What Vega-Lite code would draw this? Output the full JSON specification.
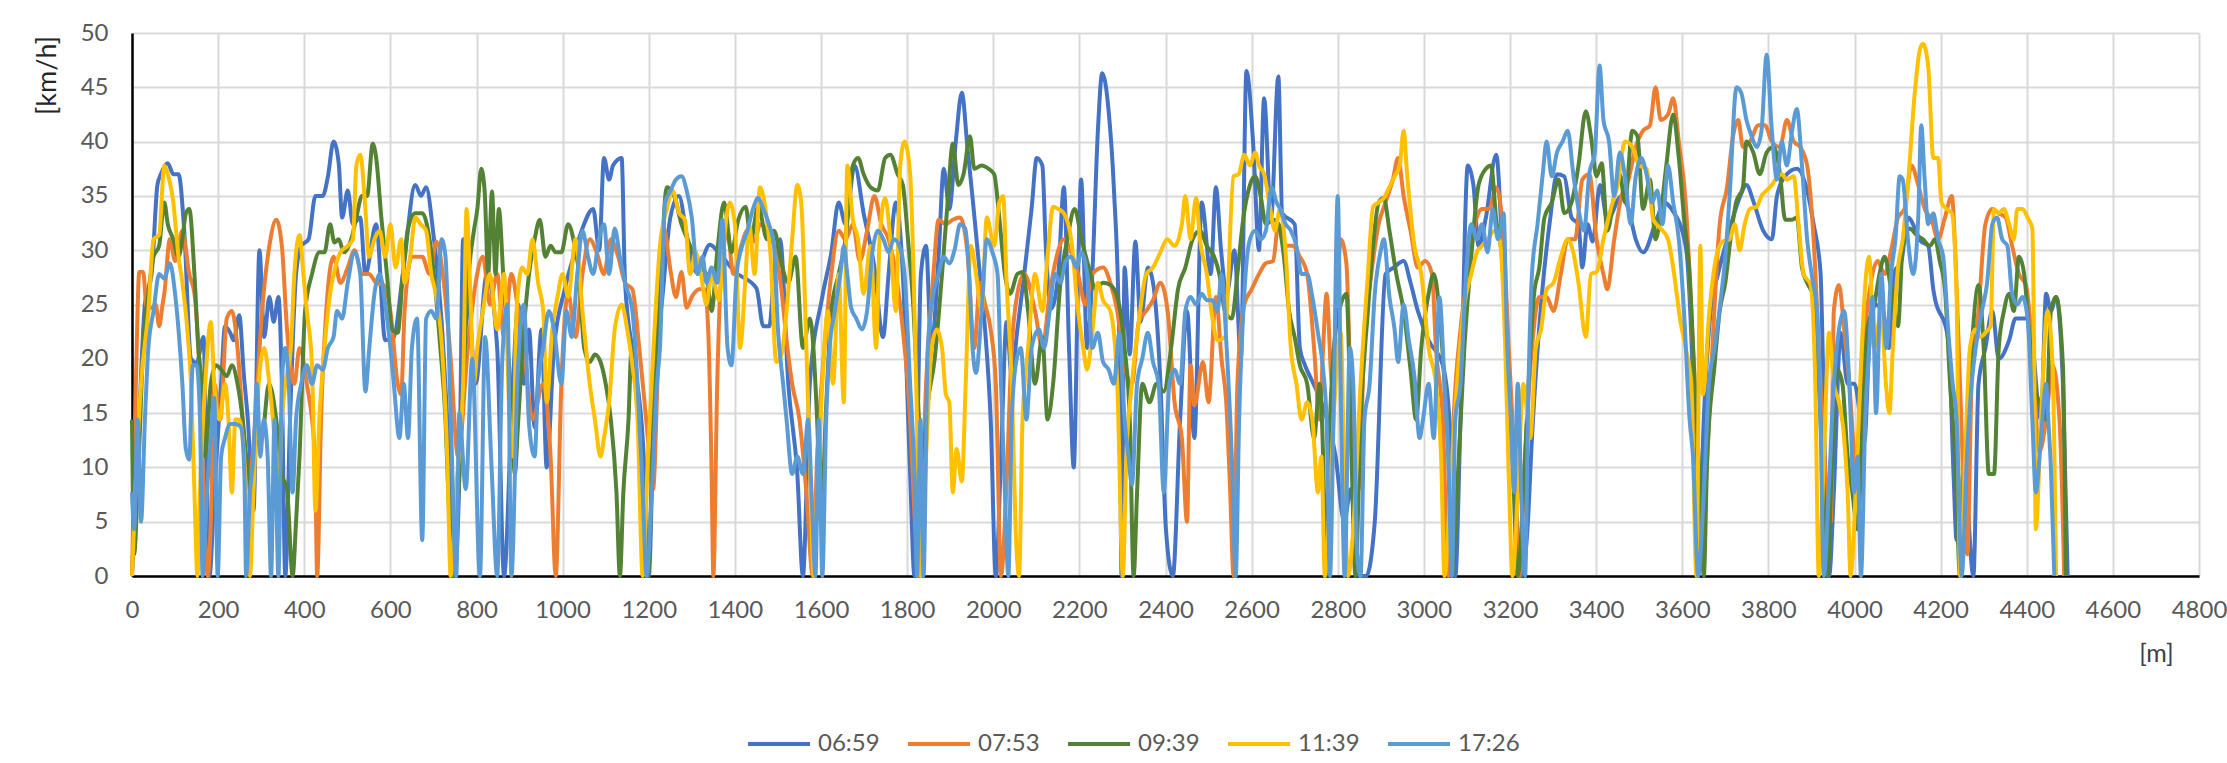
{
"$schema":"https://vega.github.io/schema/vega-lite/v6.json",
"width":2067,"height":543,
"autosize":{"type":"none"},
"padding":{"left":132,"top":33,"right":28,"bottom":187},
"background":"white",
"config":{"font":"Lato","view":{"stroke":null}},
"datasets":{
"r0659":[{"m":0,"kmh":0},{"m":10,"kmh":8},{"m":30,"kmh":25},{"m":46,"kmh":28},{"m":59,"kmh":36},{"m":67,"kmh":37},{"m":83,"kmh":38},{"m":96,"kmh":37},{"m":108,"kmh":37},{"m":121,"kmh":32},{"m":137,"kmh":20},{"m":150,"kmh":19.6},{"m":166,"kmh":22},{"m":174,"kmh":7.7},{"m":180,"kmh":0},{"m":191,"kmh":7.7},{"m":207,"kmh":17.7},{"m":216,"kmh":23},{"m":228,"kmh":22.4},{"m":236,"kmh":21.7},{"m":249,"kmh":24},{"m":260,"kmh":18.4},{"m":269,"kmh":14.4},{"m":282,"kmh":6},{"m":296,"kmh":30},{"m":307,"kmh":22},{"m":319,"kmh":25.7},{"m":329,"kmh":23.4},{"m":340,"kmh":25.7},{"m":348,"kmh":17.7},{"m":356,"kmh":0},{"m":367,"kmh":14.4},{"m":381,"kmh":27.8},{"m":393,"kmh":30.4},{"m":410,"kmh":31},{"m":426,"kmh":35},{"m":443,"kmh":35},{"m":455,"kmh":36.8},{"m":468,"kmh":40},{"m":480,"kmh":38},{"m":488,"kmh":33},{"m":501,"kmh":35.5},{"m":513,"kmh":32.4},{"m":530,"kmh":33},{"m":542,"kmh":27.8},{"m":567,"kmh":32.4},{"m":588,"kmh":21.7},{"m":608,"kmh":22},{"m":629,"kmh":27.8},{"m":658,"kmh":36},{"m":671,"kmh":35},{"m":683,"kmh":35.8},{"m":699,"kmh":31.8},{"m":719,"kmh":23.4},{"m":735,"kmh":12},{"m":749,"kmh":0},{"m":761,"kmh":11},{"m":769,"kmh":31},{"m":785,"kmh":24},{"m":798,"kmh":17.7},{"m":824,"kmh":27.8},{"m":848,"kmh":21},{"m":864,"kmh":0},{"m":881,"kmh":14.4},{"m":897,"kmh":25},{"m":910,"kmh":17.7},{"m":922,"kmh":22.7},{"m":935,"kmh":13.7},{"m":951,"kmh":22.7},{"m":963,"kmh":10},{"m":980,"kmh":21},{"m":1005,"kmh":26.4},{"m":1030,"kmh":30},{"m":1046,"kmh":32},{"m":1071,"kmh":33.8},{"m":1085,"kmh":30},{"m":1096,"kmh":38.5},{"m":1108,"kmh":36.5},{"m":1117,"kmh":37.8},{"m":1137,"kmh":38.5},{"m":1145,"kmh":27},{"m":1165,"kmh":20},{"m":1187,"kmh":12},{"m":1200,"kmh":0},{"m":1215,"kmh":20},{"m":1230,"kmh":25},{"m":1250,"kmh":33},{"m":1270,"kmh":35},{"m":1290,"kmh":31},{"m":1310,"kmh":28},{"m":1342,"kmh":30.5},{"m":1358,"kmh":30},{"m":1400,"kmh":28},{"m":1450,"kmh":26.5},{"m":1466,"kmh":23},{"m":1480,"kmh":23},{"m":1491,"kmh":27.8},{"m":1505,"kmh":31},{"m":1524,"kmh":17.7},{"m":1545,"kmh":9.4},{"m":1558,"kmh":0},{"m":1574,"kmh":17.7},{"m":1603,"kmh":25.7},{"m":1624,"kmh":29.8},{"m":1641,"kmh":34.4},{"m":1657,"kmh":32.4},{"m":1678,"kmh":37.8},{"m":1699,"kmh":33.4},{"m":1724,"kmh":28.4},{"m":1744,"kmh":22},{"m":1757,"kmh":27.8},{"m":1774,"kmh":34.4},{"m":1790,"kmh":27.8},{"m":1807,"kmh":9.4},{"m":1817,"kmh":0},{"m":1832,"kmh":27.8},{"m":1844,"kmh":30.4},{"m":1856,"kmh":21},{"m":1873,"kmh":29.4},{"m":1885,"kmh":37.5},{"m":1898,"kmh":33.8},{"m":1913,"kmh":40},{"m":1927,"kmh":44.5},{"m":1940,"kmh":39.5},{"m":1952,"kmh":34.8},{"m":1969,"kmh":27.8},{"m":1981,"kmh":22.7},{"m":1994,"kmh":14.4},{"m":2006,"kmh":0},{"m":2018,"kmh":11},{"m":2031,"kmh":23.4},{"m":2043,"kmh":18.4},{"m":2056,"kmh":22.7},{"m":2072,"kmh":27.8},{"m":2089,"kmh":33.8},{"m":2101,"kmh":38.5},{"m":2114,"kmh":37.8},{"m":2122,"kmh":30.4},{"m":2134,"kmh":24.6},{"m":2151,"kmh":27.8},{"m":2164,"kmh":35.8},{"m":2176,"kmh":21},{"m":2187,"kmh":10},{"m":2197,"kmh":27.8},{"m":2204,"kmh":36.5},{"m":2218,"kmh":21},{"m":2230,"kmh":27.8},{"m":2243,"kmh":41},{"m":2253,"kmh":46.3},{"m":2268,"kmh":42.8},{"m":2280,"kmh":35.8},{"m":2293,"kmh":21},{"m":2298,"kmh":0},{"m":2305,"kmh":28.4},{"m":2317,"kmh":20.4},{"m":2330,"kmh":30.8},{"m":2342,"kmh":23.4},{"m":2359,"kmh":28.4},{"m":2371,"kmh":27},{"m":2388,"kmh":18},{"m":2401,"kmh":4.3},{"m":2417,"kmh":0},{"m":2434,"kmh":14.4},{"m":2450,"kmh":24.4},{"m":2467,"kmh":12.7},{"m":2484,"kmh":34.4},{"m":2505,"kmh":27.8},{"m":2517,"kmh":35.8},{"m":2529,"kmh":30},{"m":2542,"kmh":26},{"m":2560,"kmh":30},{"m":2575,"kmh":20},{"m":2588,"kmh":46.5},{"m":2604,"kmh":39.5},{"m":2617,"kmh":30},{"m":2629,"kmh":44},{"m":2645,"kmh":33},{"m":2662,"kmh":46},{"m":2671,"kmh":33.4},{"m":2700,"kmh":32.4},{"m":2712,"kmh":21},{"m":2724,"kmh":19.4},{"m":2740,"kmh":18},{"m":2762,"kmh":16},{"m":2795,"kmh":11},{"m":2815,"kmh":5},{"m":2830,"kmh":8},{"m":2850,"kmh":0},{"m":2866,"kmh":0},{"m":2886,"kmh":5},{"m":2911,"kmh":27.8},{"m":2930,"kmh":28.4},{"m":2953,"kmh":29},{"m":2969,"kmh":27},{"m":2986,"kmh":24.4},{"m":3011,"kmh":21.7},{"m":3044,"kmh":19.4},{"m":3060,"kmh":14},{"m":3073,"kmh":0},{"m":3085,"kmh":14.4},{"m":3102,"kmh":37.8},{"m":3115,"kmh":36},{"m":3127,"kmh":30.4},{"m":3144,"kmh":33},{"m":3168,"kmh":38.8},{"m":3181,"kmh":31},{"m":3193,"kmh":21},{"m":3210,"kmh":9},{"m":3227,"kmh":0},{"m":3240,"kmh":4},{"m":3251,"kmh":12.7},{"m":3276,"kmh":26.7},{"m":3293,"kmh":32.8},{"m":3309,"kmh":37},{"m":3326,"kmh":36.8},{"m":3343,"kmh":33},{"m":3359,"kmh":32.4},{"m":3368,"kmh":28.4},{"m":3380,"kmh":32.4},{"m":3392,"kmh":30.8},{"m":3409,"kmh":36},{"m":3426,"kmh":32.8},{"m":3459,"kmh":35},{"m":3475,"kmh":33.8},{"m":3492,"kmh":31},{"m":3509,"kmh":29.8},{"m":3542,"kmh":33},{"m":3558,"kmh":34.4},{"m":3575,"kmh":33.8},{"m":3608,"kmh":30.4},{"m":3625,"kmh":17.7},{"m":3637,"kmh":0},{"m":3650,"kmh":14.4},{"m":3666,"kmh":24.4},{"m":3683,"kmh":27.8},{"m":3700,"kmh":30.4},{"m":3733,"kmh":34.8},{"m":3749,"kmh":36},{"m":3766,"kmh":34.4},{"m":3788,"kmh":31.8},{"m":3808,"kmh":31},{"m":3820,"kmh":35},{"m":3843,"kmh":37},{"m":3866,"kmh":37.5},{"m":3890,"kmh":35.5},{"m":3905,"kmh":32.4},{"m":3921,"kmh":28},{"m":3933,"kmh":7.7},{"m":3941,"kmh":0},{"m":3952,"kmh":7.7},{"m":3968,"kmh":22.4},{"m":3984,"kmh":17.7},{"m":4000,"kmh":17.7},{"m":4023,"kmh":12.4},{"m":4034,"kmh":21},{"m":4046,"kmh":25},{"m":4066,"kmh":24.4},{"m":4080,"kmh":21},{"m":4093,"kmh":28},{"m":4109,"kmh":29},{"m":4124,"kmh":33},{"m":4155,"kmh":30.8},{"m":4171,"kmh":30.4},{"m":4183,"kmh":26.4},{"m":4218,"kmh":21.7},{"m":4230,"kmh":9.4},{"m":4237,"kmh":3.3},{"m":4255,"kmh":10},{"m":4276,"kmh":0},{"m":4288,"kmh":17.7},{"m":4304,"kmh":21},{"m":4320,"kmh":24.4},{"m":4335,"kmh":20},{"m":4359,"kmh":21.7},{"m":4374,"kmh":23.7},{"m":4405,"kmh":23.7},{"m":4433,"kmh":14.4},{"m":4445,"kmh":26},{"m":4456,"kmh":24.4},{"m":4468,"kmh":25.7},{"m":4484,"kmh":17.7},{"m":4495,"kmh":0}],
"r0753":[{"m":0,"kmh":0},{"m":9,"kmh":17.7},{"m":17,"kmh":28},{"m":26,"kmh":28},{"m":34,"kmh":24.7},{"m":46,"kmh":24.7},{"m":55,"kmh":25},{"m":63,"kmh":23},{"m":71,"kmh":25},{"m":75,"kmh":26},{"m":88,"kmh":31},{"m":100,"kmh":29},{"m":117,"kmh":31.8},{"m":133,"kmh":27.8},{"m":145,"kmh":26},{"m":158,"kmh":17.7},{"m":170,"kmh":3.3},{"m":176,"kmh":0},{"m":183,"kmh":5},{"m":191,"kmh":17.7},{"m":205,"kmh":14.4},{"m":220,"kmh":23.7},{"m":232,"kmh":24.4},{"m":245,"kmh":21},{"m":257,"kmh":14.4},{"m":270,"kmh":8},{"m":282,"kmh":12},{"m":302,"kmh":24.4},{"m":319,"kmh":30.4},{"m":335,"kmh":32.8},{"m":348,"kmh":30.4},{"m":360,"kmh":22.7},{"m":377,"kmh":17.7},{"m":389,"kmh":21},{"m":406,"kmh":17.7},{"m":425,"kmh":11},{"m":430,"kmh":0},{"m":439,"kmh":14.4},{"m":451,"kmh":24.4},{"m":468,"kmh":29.4},{"m":484,"kmh":27},{"m":501,"kmh":28.4},{"m":517,"kmh":30},{"m":534,"kmh":27.8},{"m":550,"kmh":27.8},{"m":567,"kmh":27},{"m":584,"kmh":26.8},{"m":600,"kmh":24.4},{"m":617,"kmh":17.7},{"m":625,"kmh":16.7},{"m":633,"kmh":24.4},{"m":650,"kmh":29.4},{"m":674,"kmh":29.4},{"m":691,"kmh":27.8},{"m":707,"kmh":30.8},{"m":724,"kmh":27},{"m":740,"kmh":20},{"m":757,"kmh":11},{"m":780,"kmh":21},{"m":798,"kmh":27},{"m":815,"kmh":29.4},{"m":831,"kmh":25},{"m":848,"kmh":27.8},{"m":864,"kmh":22},{"m":881,"kmh":27.8},{"m":897,"kmh":24.4},{"m":914,"kmh":19.4},{"m":930,"kmh":14.4},{"m":955,"kmh":17.7},{"m":972,"kmh":11},{"m":984,"kmh":0},{"m":997,"kmh":17.7},{"m":1013,"kmh":26},{"m":1030,"kmh":22},{"m":1046,"kmh":27.8},{"m":1063,"kmh":31},{"m":1079,"kmh":29.8},{"m":1096,"kmh":27.8},{"m":1112,"kmh":31},{"m":1129,"kmh":29.4},{"m":1145,"kmh":27},{"m":1162,"kmh":26.4},{"m":1178,"kmh":21},{"m":1195,"kmh":14},{"m":1210,"kmh":8},{"m":1222,"kmh":20},{"m":1235,"kmh":32},{"m":1251,"kmh":28},{"m":1263,"kmh":25.7},{"m":1276,"kmh":28},{"m":1288,"kmh":24.7},{"m":1300,"kmh":25.7},{"m":1317,"kmh":26.4},{"m":1330,"kmh":26.4},{"m":1338,"kmh":22.7},{"m":1346,"kmh":9.4},{"m":1350,"kmh":0},{"m":1359,"kmh":17.7},{"m":1367,"kmh":27},{"m":1383,"kmh":31.8},{"m":1396,"kmh":27.8},{"m":1412,"kmh":30},{"m":1429,"kmh":31.8},{"m":1446,"kmh":30.8},{"m":1458,"kmh":32.4},{"m":1475,"kmh":31.8},{"m":1491,"kmh":30.4},{"m":1508,"kmh":26.4},{"m":1520,"kmh":21.7},{"m":1533,"kmh":17.7},{"m":1550,"kmh":14.4},{"m":1566,"kmh":7.7},{"m":1581,"kmh":0},{"m":1591,"kmh":11},{"m":1608,"kmh":21},{"m":1624,"kmh":27.8},{"m":1641,"kmh":31.8},{"m":1657,"kmh":31},{"m":1674,"kmh":32.4},{"m":1690,"kmh":29},{"m":1707,"kmh":31.8},{"m":1724,"kmh":35},{"m":1740,"kmh":32.4},{"m":1757,"kmh":31},{"m":1774,"kmh":27.8},{"m":1790,"kmh":22.7},{"m":1807,"kmh":14.4},{"m":1818,"kmh":5},{"m":1827,"kmh":0},{"m":1844,"kmh":17.7},{"m":1861,"kmh":27.8},{"m":1873,"kmh":32.8},{"m":1890,"kmh":32.4},{"m":1906,"kmh":32.8},{"m":1923,"kmh":33},{"m":1940,"kmh":29.8},{"m":1956,"kmh":21},{"m":1969,"kmh":27},{"m":1981,"kmh":25},{"m":1994,"kmh":22.7},{"m":2006,"kmh":17.7},{"m":2018,"kmh":0},{"m":2030,"kmh":7.7},{"m":2043,"kmh":21},{"m":2056,"kmh":26},{"m":2072,"kmh":27.8},{"m":2097,"kmh":24.4},{"m":2114,"kmh":21},{"m":2131,"kmh":26},{"m":2147,"kmh":29.4},{"m":2164,"kmh":31},{"m":2181,"kmh":29.8},{"m":2197,"kmh":27.8},{"m":2214,"kmh":25},{"m":2230,"kmh":27.8},{"m":2255,"kmh":28.4},{"m":2272,"kmh":27},{"m":2288,"kmh":24.4},{"m":2305,"kmh":19.4},{"m":2322,"kmh":17.7},{"m":2338,"kmh":23.4},{"m":2355,"kmh":24.4},{"m":2371,"kmh":25.4},{"m":2388,"kmh":27},{"m":2405,"kmh":24.4},{"m":2421,"kmh":16},{"m":2438,"kmh":12.7},{"m":2450,"kmh":5},{"m":2458,"kmh":19.4},{"m":2467,"kmh":15.7},{"m":2487,"kmh":19.7},{"m":2500,"kmh":16},{"m":2517,"kmh":25.7},{"m":2530,"kmh":20},{"m":2541,"kmh":16},{"m":2550,"kmh":8},{"m":2558,"kmh":0},{"m":2567,"kmh":17.7},{"m":2583,"kmh":25},{"m":2600,"kmh":26.4},{"m":2617,"kmh":27.8},{"m":2633,"kmh":28.8},{"m":2650,"kmh":29},{"m":2662,"kmh":32.4},{"m":2679,"kmh":30.4},{"m":2695,"kmh":30.4},{"m":2712,"kmh":29.4},{"m":2729,"kmh":27.8},{"m":2745,"kmh":21},{"m":2758,"kmh":14.4},{"m":2766,"kmh":21},{"m":2774,"kmh":26},{"m":2787,"kmh":17.7},{"m":2797,"kmh":24.4},{"m":2807,"kmh":31},{"m":2820,"kmh":28.8},{"m":2832,"kmh":14.4},{"m":2849,"kmh":8},{"m":2861,"kmh":21},{"m":2878,"kmh":27.8},{"m":2895,"kmh":32.4},{"m":2911,"kmh":34.4},{"m":2928,"kmh":36.5},{"m":2940,"kmh":38.5},{"m":2953,"kmh":35},{"m":2969,"kmh":31.8},{"m":2986,"kmh":28.4},{"m":3003,"kmh":29},{"m":3019,"kmh":27.8},{"m":3028,"kmh":21},{"m":3044,"kmh":14.4},{"m":3057,"kmh":0},{"m":3069,"kmh":14.4},{"m":3085,"kmh":22.7},{"m":3102,"kmh":27.8},{"m":3119,"kmh":32.4},{"m":3135,"kmh":33.8},{"m":3152,"kmh":33.8},{"m":3168,"kmh":35.8},{"m":3185,"kmh":31},{"m":3197,"kmh":21},{"m":3210,"kmh":11},{"m":3222,"kmh":0},{"m":3235,"kmh":11},{"m":3251,"kmh":21},{"m":3268,"kmh":25.7},{"m":3285,"kmh":25.7},{"m":3301,"kmh":24.4},{"m":3318,"kmh":27.8},{"m":3334,"kmh":31},{"m":3351,"kmh":31},{"m":3368,"kmh":36.5},{"m":3384,"kmh":37},{"m":3401,"kmh":31},{"m":3417,"kmh":27.8},{"m":3426,"kmh":26.4},{"m":3442,"kmh":31},{"m":3459,"kmh":35},{"m":3475,"kmh":36.5},{"m":3492,"kmh":39.5},{"m":3509,"kmh":41},{"m":3525,"kmh":41.5},{"m":3538,"kmh":45},{"m":3550,"kmh":42},{"m":3567,"kmh":42.5},{"m":3579,"kmh":44},{"m":3592,"kmh":40},{"m":3608,"kmh":34.4},{"m":3625,"kmh":21},{"m":3637,"kmh":11},{"m":3645,"kmh":3},{"m":3654,"kmh":7.7},{"m":3670,"kmh":21},{"m":3687,"kmh":32.4},{"m":3704,"kmh":35.8},{"m":3718,"kmh":40.5},{"m":3730,"kmh":42},{"m":3741,"kmh":39.5},{"m":3757,"kmh":40},{"m":3777,"kmh":41.5},{"m":3792,"kmh":41.5},{"m":3808,"kmh":40},{"m":3827,"kmh":39.5},{"m":3843,"kmh":42},{"m":3859,"kmh":40},{"m":3874,"kmh":39.5},{"m":3890,"kmh":37.8},{"m":3905,"kmh":31},{"m":3921,"kmh":17.7},{"m":3935,"kmh":8},{"m":3945,"kmh":5},{"m":3952,"kmh":24.4},{"m":3964,"kmh":26.8},{"m":3976,"kmh":22.7},{"m":3988,"kmh":17.7},{"m":4000,"kmh":11},{"m":4012,"kmh":8},{"m":4023,"kmh":21},{"m":4038,"kmh":27},{"m":4054,"kmh":29},{"m":4070,"kmh":27.8},{"m":4085,"kmh":30},{"m":4101,"kmh":33},{"m":4116,"kmh":33.8},{"m":4132,"kmh":37.8},{"m":4148,"kmh":36},{"m":4163,"kmh":33.8},{"m":4179,"kmh":32.8},{"m":4194,"kmh":31},{"m":4210,"kmh":33},{"m":4226,"kmh":35},{"m":4234,"kmh":29.8},{"m":4245,"kmh":17.7},{"m":4262,"kmh":2},{"m":4272,"kmh":17.7},{"m":4288,"kmh":24.4},{"m":4304,"kmh":32.4},{"m":4320,"kmh":33.8},{"m":4335,"kmh":33.4},{"m":4351,"kmh":33},{"m":4366,"kmh":30.4},{"m":4382,"kmh":27.8},{"m":4398,"kmh":26.8},{"m":4413,"kmh":21},{"m":4429,"kmh":11.4},{"m":4445,"kmh":14.4},{"m":4460,"kmh":19.4},{"m":4476,"kmh":14.4},{"m":4487,"kmh":0}],
"r0939":[{"m":0,"kmh":14.4},{"m":5,"kmh":2},{"m":13,"kmh":8},{"m":26,"kmh":21},{"m":38,"kmh":26},{"m":50,"kmh":29.4},{"m":63,"kmh":30.4},{"m":75,"kmh":34.4},{"m":83,"kmh":32.4},{"m":96,"kmh":31},{"m":108,"kmh":29.4},{"m":117,"kmh":31},{"m":125,"kmh":33.4},{"m":133,"kmh":33.8},{"m":145,"kmh":27.8},{"m":154,"kmh":21},{"m":162,"kmh":17.7},{"m":170,"kmh":11},{"m":183,"kmh":17.7},{"m":195,"kmh":19.4},{"m":207,"kmh":19},{"m":220,"kmh":18.4},{"m":232,"kmh":19.4},{"m":245,"kmh":17.7},{"m":257,"kmh":14.4},{"m":265,"kmh":11},{"m":274,"kmh":7.7},{"m":286,"kmh":12},{"m":302,"kmh":12.7},{"m":318,"kmh":17.7},{"m":335,"kmh":14.4},{"m":348,"kmh":9.4},{"m":360,"kmh":8},{"m":373,"kmh":0},{"m":381,"kmh":5},{"m":389,"kmh":11},{"m":402,"kmh":24.4},{"m":418,"kmh":27.8},{"m":435,"kmh":29.8},{"m":447,"kmh":29.8},{"m":460,"kmh":32.4},{"m":470,"kmh":30.7},{"m":480,"kmh":31},{"m":492,"kmh":29.8},{"m":509,"kmh":31},{"m":521,"kmh":33},{"m":534,"kmh":35},{"m":546,"kmh":35},{"m":559,"kmh":39.8},{"m":567,"kmh":38.5},{"m":579,"kmh":33},{"m":592,"kmh":27.8},{"m":604,"kmh":22.7},{"m":617,"kmh":22.4},{"m":629,"kmh":27.8},{"m":641,"kmh":32},{"m":658,"kmh":33.4},{"m":674,"kmh":33.4},{"m":691,"kmh":31},{"m":703,"kmh":27},{"m":716,"kmh":21},{"m":728,"kmh":14.4},{"m":737,"kmh":5},{"m":745,"kmh":0},{"m":755,"kmh":5},{"m":769,"kmh":17.7},{"m":782,"kmh":27.8},{"m":794,"kmh":31.8},{"m":802,"kmh":33.8},{"m":811,"kmh":37.5},{"m":819,"kmh":35.4},{"m":827,"kmh":27.8},{"m":836,"kmh":35.4},{"m":844,"kmh":27.8},{"m":852,"kmh":33.8},{"m":862,"kmh":27.8},{"m":873,"kmh":21},{"m":881,"kmh":16},{"m":889,"kmh":9.4},{"m":897,"kmh":14.4},{"m":910,"kmh":22.7},{"m":922,"kmh":27.8},{"m":935,"kmh":31},{"m":947,"kmh":32.8},{"m":960,"kmh":29.4},{"m":972,"kmh":30.4},{"m":984,"kmh":29.8},{"m":997,"kmh":29.8},{"m":1013,"kmh":32.4},{"m":1025,"kmh":31},{"m":1038,"kmh":27.8},{"m":1050,"kmh":21},{"m":1063,"kmh":19.7},{"m":1075,"kmh":20.4},{"m":1088,"kmh":19.7},{"m":1100,"kmh":17.7},{"m":1112,"kmh":14.4},{"m":1125,"kmh":7.7},{"m":1133,"kmh":0},{"m":1141,"kmh":7.7},{"m":1153,"kmh":14.4},{"m":1160,"kmh":21},{"m":1170,"kmh":17.7},{"m":1182,"kmh":11},{"m":1198,"kmh":0},{"m":1211,"kmh":14.4},{"m":1225,"kmh":25},{"m":1242,"kmh":35.8},{"m":1259,"kmh":35},{"m":1276,"kmh":32.4},{"m":1292,"kmh":30.8},{"m":1317,"kmh":28.5},{"m":1334,"kmh":27.8},{"m":1346,"kmh":24.4},{"m":1359,"kmh":29.8},{"m":1375,"kmh":34.4},{"m":1392,"kmh":29.8},{"m":1408,"kmh":32.8},{"m":1425,"kmh":34},{"m":1437,"kmh":31},{"m":1454,"kmh":34},{"m":1475,"kmh":31},{"m":1491,"kmh":31.8},{"m":1508,"kmh":28.8},{"m":1524,"kmh":27},{"m":1541,"kmh":29.4},{"m":1558,"kmh":21},{"m":1574,"kmh":23.7},{"m":1591,"kmh":14.4},{"m":1600,"kmh":5},{"m":1612,"kmh":15.7},{"m":1624,"kmh":24.4},{"m":1641,"kmh":27.8},{"m":1657,"kmh":31},{"m":1674,"kmh":37.8},{"m":1686,"kmh":38.5},{"m":1699,"kmh":37},{"m":1715,"kmh":35.8},{"m":1732,"kmh":35.5},{"m":1749,"kmh":38.5},{"m":1761,"kmh":38.8},{"m":1778,"kmh":37},{"m":1790,"kmh":36},{"m":1802,"kmh":31},{"m":1815,"kmh":24.4},{"m":1823,"kmh":17.7},{"m":1836,"kmh":11},{"m":1848,"kmh":16},{"m":1864,"kmh":20},{"m":1881,"kmh":27.8},{"m":1894,"kmh":34.4},{"m":1906,"kmh":39.8},{"m":1919,"kmh":36},{"m":1931,"kmh":37},{"m":1946,"kmh":40.5},{"m":1956,"kmh":37.5},{"m":1973,"kmh":37.8},{"m":1989,"kmh":37.5},{"m":2002,"kmh":37},{"m":2014,"kmh":33},{"m":2027,"kmh":27.8},{"m":2039,"kmh":26},{"m":2056,"kmh":27.8},{"m":2068,"kmh":28},{"m":2081,"kmh":24.4},{"m":2097,"kmh":17.7},{"m":2114,"kmh":22},{"m":2126,"kmh":14.4},{"m":2139,"kmh":17.7},{"m":2156,"kmh":27},{"m":2172,"kmh":31},{"m":2189,"kmh":33.8},{"m":2205,"kmh":31},{"m":2222,"kmh":28.4},{"m":2238,"kmh":26.4},{"m":2255,"kmh":27},{"m":2272,"kmh":26.8},{"m":2288,"kmh":25.7},{"m":2305,"kmh":21},{"m":2317,"kmh":14.4},{"m":2326,"kmh":0},{"m":2334,"kmh":7.7},{"m":2346,"kmh":17.7},{"m":2363,"kmh":16},{"m":2379,"kmh":17.7},{"m":2396,"kmh":17},{"m":2413,"kmh":21},{"m":2429,"kmh":26.4},{"m":2446,"kmh":28.4},{"m":2463,"kmh":31},{"m":2480,"kmh":31.8},{"m":2496,"kmh":30.4},{"m":2513,"kmh":29.4},{"m":2525,"kmh":27.8},{"m":2538,"kmh":24.4},{"m":2554,"kmh":23.7},{"m":2567,"kmh":27.8},{"m":2579,"kmh":32.4},{"m":2596,"kmh":36},{"m":2608,"kmh":36.8},{"m":2621,"kmh":35},{"m":2633,"kmh":32.4},{"m":2650,"kmh":32.8},{"m":2662,"kmh":32.4},{"m":2675,"kmh":29.4},{"m":2687,"kmh":24.4},{"m":2700,"kmh":22},{"m":2712,"kmh":19.4},{"m":2729,"kmh":17.7},{"m":2745,"kmh":12.7},{"m":2758,"kmh":17.7},{"m":2766,"kmh":11},{"m":2772,"kmh":0},{"m":2779,"kmh":11},{"m":2795,"kmh":22.7},{"m":2807,"kmh":25},{"m":2820,"kmh":26},{"m":2832,"kmh":11},{"m":2841,"kmh":0},{"m":2853,"kmh":14.4},{"m":2870,"kmh":24.4},{"m":2882,"kmh":30.4},{"m":2895,"kmh":34.4},{"m":2907,"kmh":34.8},{"m":2920,"kmh":31.8},{"m":2936,"kmh":27.8},{"m":2953,"kmh":24.4},{"m":2969,"kmh":19},{"m":2982,"kmh":14.4},{"m":2994,"kmh":21},{"m":3011,"kmh":26},{"m":3023,"kmh":27.8},{"m":3036,"kmh":24.4},{"m":3048,"kmh":17.7},{"m":3057,"kmh":11},{"m":3065,"kmh":0},{"m":3077,"kmh":7.7},{"m":3094,"kmh":21},{"m":3110,"kmh":29.4},{"m":3127,"kmh":36},{"m":3144,"kmh":37.5},{"m":3156,"kmh":37.8},{"m":3168,"kmh":32.8},{"m":3181,"kmh":29.4},{"m":3193,"kmh":21},{"m":3206,"kmh":11},{"m":3218,"kmh":0},{"m":3231,"kmh":7.7},{"m":3243,"kmh":17.7},{"m":3256,"kmh":26},{"m":3268,"kmh":28.4},{"m":3280,"kmh":33},{"m":3297,"kmh":34.4},{"m":3313,"kmh":36.5},{"m":3326,"kmh":33.4},{"m":3343,"kmh":34.4},{"m":3359,"kmh":37.8},{"m":3376,"kmh":42.8},{"m":3388,"kmh":40.5},{"m":3401,"kmh":36.8},{"m":3413,"kmh":38},{"m":3426,"kmh":31.8},{"m":3442,"kmh":35},{"m":3455,"kmh":37},{"m":3467,"kmh":34.4},{"m":3484,"kmh":41},{"m":3496,"kmh":40.5},{"m":3509,"kmh":33.8},{"m":3525,"kmh":36.5},{"m":3538,"kmh":31},{"m":3550,"kmh":33.4},{"m":3563,"kmh":37.8},{"m":3579,"kmh":42.5},{"m":3592,"kmh":38.5},{"m":3604,"kmh":33},{"m":3617,"kmh":27.8},{"m":3629,"kmh":17.7},{"m":3642,"kmh":7.7},{"m":3650,"kmh":0},{"m":3658,"kmh":11},{"m":3675,"kmh":19.4},{"m":3687,"kmh":24.4},{"m":3700,"kmh":27},{"m":3712,"kmh":31},{"m":3725,"kmh":34.4},{"m":3741,"kmh":35.8},{"m":3749,"kmh":40},{"m":3765,"kmh":39},{"m":3780,"kmh":37},{"m":3796,"kmh":39},{"m":3812,"kmh":39.5},{"m":3827,"kmh":37},{"m":3839,"kmh":32.8},{"m":3855,"kmh":32.8},{"m":3866,"kmh":33},{"m":3878,"kmh":28.4},{"m":3890,"kmh":27},{"m":3905,"kmh":25.7},{"m":3917,"kmh":17.7},{"m":3929,"kmh":7.7},{"m":3937,"kmh":0},{"m":3948,"kmh":11},{"m":3960,"kmh":19},{"m":3972,"kmh":17.7},{"m":3984,"kmh":11},{"m":3995,"kmh":7.7},{"m":4007,"kmh":4.3},{"m":4019,"kmh":14.4},{"m":4030,"kmh":22.7},{"m":4046,"kmh":25},{"m":4058,"kmh":27.8},{"m":4070,"kmh":29.4},{"m":4085,"kmh":26.4},{"m":4101,"kmh":23},{"m":4112,"kmh":30.4},{"m":4128,"kmh":32},{"m":4144,"kmh":31.4},{"m":4159,"kmh":31},{"m":4175,"kmh":30.4},{"m":4187,"kmh":31},{"m":4198,"kmh":29},{"m":4210,"kmh":26.4},{"m":4222,"kmh":17.7},{"m":4234,"kmh":11},{"m":4245,"kmh":0},{"m":4258,"kmh":11},{"m":4272,"kmh":21},{"m":4288,"kmh":26.8},{"m":4300,"kmh":21},{"m":4312,"kmh":9.4},{"m":4324,"kmh":9.4},{"m":4335,"kmh":21},{"m":4347,"kmh":24.4},{"m":4359,"kmh":26},{"m":4370,"kmh":24.4},{"m":4382,"kmh":29.4},{"m":4394,"kmh":27.8},{"m":4405,"kmh":22.7},{"m":4417,"kmh":17.7},{"m":4429,"kmh":16},{"m":4445,"kmh":14.4},{"m":4456,"kmh":24.4},{"m":4468,"kmh":25.7},{"m":4484,"kmh":19.4},{"m":4491,"kmh":0}],
"r1139":[{"m":0,"kmh":0},{"m":8,"kmh":8},{"m":21,"kmh":17.7},{"m":38,"kmh":24.4},{"m":50,"kmh":31},{"m":63,"kmh":31.4},{"m":75,"kmh":37.8},{"m":83,"kmh":37},{"m":96,"kmh":34.4},{"m":108,"kmh":29.4},{"m":117,"kmh":27},{"m":129,"kmh":22.4},{"m":137,"kmh":17.7},{"m":145,"kmh":7.7},{"m":152,"kmh":0},{"m":158,"kmh":8},{"m":170,"kmh":17.7},{"m":183,"kmh":23.4},{"m":191,"kmh":17.7},{"m":203,"kmh":14.4},{"m":216,"kmh":17.7},{"m":224,"kmh":14.4},{"m":232,"kmh":7.7},{"m":240,"kmh":14.4},{"m":248,"kmh":14.4},{"m":257,"kmh":12.7},{"m":265,"kmh":7.7},{"m":274,"kmh":0},{"m":282,"kmh":7.7},{"m":294,"kmh":17.7},{"m":307,"kmh":21},{"m":319,"kmh":17.7},{"m":331,"kmh":12.7},{"m":340,"kmh":7.7},{"m":348,"kmh":14.4},{"m":356,"kmh":17.7},{"m":369,"kmh":21},{"m":377,"kmh":27.8},{"m":389,"kmh":31.4},{"m":398,"kmh":27.8},{"m":406,"kmh":24.4},{"m":418,"kmh":19.4},{"m":426,"kmh":6},{"m":435,"kmh":14.4},{"m":447,"kmh":21},{"m":460,"kmh":26},{"m":472,"kmh":28.4},{"m":484,"kmh":29.8},{"m":501,"kmh":30.4},{"m":513,"kmh":31},{"m":521,"kmh":37.8},{"m":530,"kmh":38.8},{"m":542,"kmh":33.8},{"m":550,"kmh":29.4},{"m":563,"kmh":31},{"m":575,"kmh":31.8},{"m":588,"kmh":29.4},{"m":600,"kmh":32.4},{"m":612,"kmh":28.4},{"m":625,"kmh":31},{"m":633,"kmh":27},{"m":646,"kmh":29.4},{"m":658,"kmh":33},{"m":670,"kmh":32.4},{"m":683,"kmh":31.8},{"m":695,"kmh":27.8},{"m":707,"kmh":25.7},{"m":720,"kmh":21},{"m":732,"kmh":11},{"m":740,"kmh":0},{"m":752,"kmh":7.7},{"m":769,"kmh":17.7},{"m":777,"kmh":33.8},{"m":786,"kmh":25.7},{"m":794,"kmh":17.7},{"m":802,"kmh":21},{"m":815,"kmh":24.4},{"m":831,"kmh":27.8},{"m":848,"kmh":22.7},{"m":864,"kmh":27.8},{"m":877,"kmh":14.4},{"m":885,"kmh":11},{"m":893,"kmh":24.4},{"m":906,"kmh":28.4},{"m":918,"kmh":27.8},{"m":930,"kmh":31},{"m":943,"kmh":27},{"m":955,"kmh":24.4},{"m":963,"kmh":16},{"m":976,"kmh":22.7},{"m":988,"kmh":25.7},{"m":1000,"kmh":27.8},{"m":1013,"kmh":25.7},{"m":1030,"kmh":31},{"m":1046,"kmh":24.4},{"m":1063,"kmh":17.7},{"m":1075,"kmh":14.4},{"m":1088,"kmh":11},{"m":1096,"kmh":12.7},{"m":1108,"kmh":16},{"m":1121,"kmh":22.7},{"m":1137,"kmh":25},{"m":1150,"kmh":22.7},{"m":1162,"kmh":19.4},{"m":1174,"kmh":14.4},{"m":1186,"kmh":0},{"m":1198,"kmh":11},{"m":1211,"kmh":21},{"m":1226,"kmh":30.4},{"m":1242,"kmh":33.8},{"m":1255,"kmh":35.5},{"m":1271,"kmh":33.4},{"m":1284,"kmh":32.8},{"m":1296,"kmh":27.8},{"m":1309,"kmh":29.8},{"m":1321,"kmh":27.8},{"m":1334,"kmh":25},{"m":1346,"kmh":27.8},{"m":1363,"kmh":25.4},{"m":1375,"kmh":31},{"m":1388,"kmh":34.4},{"m":1400,"kmh":32.4},{"m":1412,"kmh":21},{"m":1425,"kmh":27.8},{"m":1433,"kmh":32.4},{"m":1446,"kmh":27.8},{"m":1458,"kmh":35.8},{"m":1471,"kmh":33.8},{"m":1483,"kmh":29.4},{"m":1496,"kmh":19.7},{"m":1508,"kmh":20.4},{"m":1520,"kmh":24.4},{"m":1533,"kmh":31},{"m":1545,"kmh":36},{"m":1554,"kmh":34.4},{"m":1566,"kmh":21},{"m":1574,"kmh":11},{"m":1583,"kmh":0},{"m":1591,"kmh":7.7},{"m":1603,"kmh":17.7},{"m":1616,"kmh":24.4},{"m":1628,"kmh":17.7},{"m":1641,"kmh":27.8},{"m":1653,"kmh":16},{"m":1661,"kmh":37.8},{"m":1674,"kmh":32.8},{"m":1686,"kmh":31},{"m":1699,"kmh":26},{"m":1715,"kmh":30.4},{"m":1728,"kmh":21},{"m":1736,"kmh":31},{"m":1749,"kmh":34.8},{"m":1761,"kmh":31},{"m":1774,"kmh":24.4},{"m":1784,"kmh":37.8},{"m":1794,"kmh":40},{"m":1807,"kmh":37},{"m":1815,"kmh":27.8},{"m":1823,"kmh":14.4},{"m":1832,"kmh":0},{"m":1844,"kmh":11},{"m":1857,"kmh":21},{"m":1869,"kmh":22.7},{"m":1881,"kmh":21},{"m":1890,"kmh":16.7},{"m":1898,"kmh":16},{"m":1906,"kmh":7.7},{"m":1915,"kmh":11.7},{"m":1927,"kmh":8.7},{"m":1936,"kmh":17.7},{"m":1948,"kmh":30.4},{"m":1960,"kmh":27.8},{"m":1973,"kmh":24.4},{"m":1985,"kmh":33},{"m":2002,"kmh":30.4},{"m":2014,"kmh":34.4},{"m":2023,"kmh":35},{"m":2031,"kmh":27},{"m":2043,"kmh":17.7},{"m":2052,"kmh":4.3},{"m":2060,"kmh":0},{"m":2068,"kmh":14.4},{"m":2081,"kmh":21},{"m":2097,"kmh":27.8},{"m":2114,"kmh":24.4},{"m":2126,"kmh":29.4},{"m":2139,"kmh":34},{"m":2151,"kmh":33.8},{"m":2164,"kmh":33.4},{"m":2181,"kmh":31},{"m":2197,"kmh":24.4},{"m":2209,"kmh":21},{"m":2218,"kmh":19},{"m":2230,"kmh":22.4},{"m":2243,"kmh":27},{"m":2255,"kmh":25.4},{"m":2272,"kmh":24.4},{"m":2288,"kmh":17.7},{"m":2301,"kmh":0},{"m":2309,"kmh":11},{"m":2322,"kmh":17.7},{"m":2338,"kmh":23.4},{"m":2355,"kmh":27.8},{"m":2371,"kmh":28.4},{"m":2388,"kmh":29.8},{"m":2404,"kmh":31},{"m":2421,"kmh":30.4},{"m":2438,"kmh":32.4},{"m":2446,"kmh":35},{"m":2458,"kmh":31},{"m":2471,"kmh":34.8},{"m":2480,"kmh":31},{"m":2496,"kmh":27.8},{"m":2509,"kmh":23.7},{"m":2521,"kmh":21.7},{"m":2538,"kmh":22},{"m":2558,"kmh":36.8},{"m":2570,"kmh":37},{"m":2583,"kmh":38.8},{"m":2596,"kmh":37.8},{"m":2608,"kmh":39},{"m":2617,"kmh":37.8},{"m":2629,"kmh":37},{"m":2641,"kmh":34.4},{"m":2654,"kmh":31.8},{"m":2666,"kmh":33.8},{"m":2679,"kmh":29.8},{"m":2691,"kmh":21},{"m":2704,"kmh":17.7},{"m":2716,"kmh":14.4},{"m":2729,"kmh":16},{"m":2741,"kmh":14.4},{"m":2754,"kmh":7.7},{"m":2762,"kmh":11},{"m":2770,"kmh":0},{"m":2782,"kmh":7.7},{"m":2795,"kmh":17.7},{"m":2807,"kmh":22.4},{"m":2816,"kmh":7.7},{"m":2824,"kmh":0},{"m":2836,"kmh":4.3},{"m":2853,"kmh":17.7},{"m":2870,"kmh":27.8},{"m":2882,"kmh":34},{"m":2895,"kmh":34.4},{"m":2907,"kmh":34.8},{"m":2920,"kmh":35.8},{"m":2932,"kmh":36.8},{"m":2944,"kmh":37.8},{"m":2953,"kmh":41},{"m":2961,"kmh":37},{"m":2978,"kmh":30.4},{"m":2994,"kmh":27.8},{"m":3011,"kmh":21},{"m":3028,"kmh":17.7},{"m":3040,"kmh":11},{"m":3048,"kmh":0},{"m":3061,"kmh":7.7},{"m":3077,"kmh":17.7},{"m":3094,"kmh":25},{"m":3110,"kmh":27.8},{"m":3123,"kmh":29.8},{"m":3135,"kmh":30.4},{"m":3148,"kmh":31},{"m":3164,"kmh":31.8},{"m":3176,"kmh":31},{"m":3189,"kmh":21},{"m":3197,"kmh":9.4},{"m":3206,"kmh":0},{"m":3218,"kmh":7.7},{"m":3231,"kmh":17.7},{"m":3247,"kmh":12.7},{"m":3260,"kmh":21},{"m":3272,"kmh":22.7},{"m":3285,"kmh":26.4},{"m":3301,"kmh":27},{"m":3318,"kmh":29.4},{"m":3334,"kmh":31},{"m":3347,"kmh":29.8},{"m":3359,"kmh":27},{"m":3376,"kmh":22},{"m":3388,"kmh":27.8},{"m":3401,"kmh":28},{"m":3417,"kmh":31},{"m":3434,"kmh":33.8},{"m":3450,"kmh":36},{"m":3467,"kmh":40},{"m":3484,"kmh":39.5},{"m":3500,"kmh":37.8},{"m":3517,"kmh":37.5},{"m":3533,"kmh":32.8},{"m":3550,"kmh":32},{"m":3567,"kmh":31},{"m":3579,"kmh":28.4},{"m":3596,"kmh":23.4},{"m":3608,"kmh":21},{"m":3621,"kmh":17.7},{"m":3633,"kmh":0},{"m":3642,"kmh":30.4},{"m":3648,"kmh":16.7},{"m":3663,"kmh":24.4},{"m":3679,"kmh":29.4},{"m":3694,"kmh":30.8},{"m":3710,"kmh":31},{"m":3722,"kmh":32.4},{"m":3733,"kmh":30},{"m":3745,"kmh":32.4},{"m":3757,"kmh":33.8},{"m":3773,"kmh":34},{"m":3784,"kmh":35},{"m":3796,"kmh":35.5},{"m":3808,"kmh":36},{"m":3816,"kmh":36.5},{"m":3831,"kmh":37},{"m":3843,"kmh":36.5},{"m":3859,"kmh":36.8},{"m":3870,"kmh":32.4},{"m":3882,"kmh":27.8},{"m":3898,"kmh":26.8},{"m":3909,"kmh":17.7},{"m":3917,"kmh":0},{"m":3929,"kmh":11},{"m":3941,"kmh":22.4},{"m":3952,"kmh":17.7},{"m":3964,"kmh":16},{"m":3976,"kmh":12.7},{"m":3984,"kmh":7.7},{"m":3991,"kmh":0},{"m":4003,"kmh":8},{"m":4015,"kmh":19.4},{"m":4027,"kmh":27.8},{"m":4034,"kmh":29.4},{"m":4046,"kmh":21},{"m":4062,"kmh":24.4},{"m":4073,"kmh":17.7},{"m":4081,"kmh":15},{"m":4089,"kmh":21},{"m":4101,"kmh":28.4},{"m":4112,"kmh":31},{"m":4124,"kmh":36},{"m":4140,"kmh":44.5},{"m":4152,"kmh":48.5},{"m":4159,"kmh":49},{"m":4171,"kmh":47},{"m":4183,"kmh":38.5},{"m":4194,"kmh":38.5},{"m":4202,"kmh":34.4},{"m":4214,"kmh":33.8},{"m":4226,"kmh":33.4},{"m":4237,"kmh":26},{"m":4245,"kmh":0},{"m":4257,"kmh":11},{"m":4268,"kmh":21},{"m":4280,"kmh":22.7},{"m":4292,"kmh":22},{"m":4304,"kmh":22.4},{"m":4316,"kmh":23},{"m":4324,"kmh":33.8},{"m":4335,"kmh":33.4},{"m":4347,"kmh":33.8},{"m":4359,"kmh":32.4},{"m":4370,"kmh":31},{"m":4378,"kmh":33.8},{"m":4390,"kmh":33.8},{"m":4402,"kmh":33},{"m":4413,"kmh":32},{"m":4417,"kmh":21},{"m":4421,"kmh":4.3},{"m":4433,"kmh":14.4},{"m":4448,"kmh":24.4},{"m":4460,"kmh":19.4},{"m":4468,"kmh":0}],
"r1726":[{"m":0,"kmh":7.7},{"m":5,"kmh":4.3},{"m":13,"kmh":14.4},{"m":21,"kmh":5},{"m":30,"kmh":14.4},{"m":38,"kmh":21},{"m":50,"kmh":24.4},{"m":63,"kmh":27.8},{"m":75,"kmh":27.4},{"m":88,"kmh":28.8},{"m":100,"kmh":26},{"m":108,"kmh":22.7},{"m":117,"kmh":17.7},{"m":125,"kmh":11.7},{"m":133,"kmh":10.7},{"m":141,"kmh":19.4},{"m":150,"kmh":19.4},{"m":158,"kmh":14.4},{"m":164,"kmh":0},{"m":174,"kmh":7.7},{"m":183,"kmh":12.7},{"m":191,"kmh":16.4},{"m":199,"kmh":0},{"m":207,"kmh":11},{"m":216,"kmh":12.7},{"m":228,"kmh":14},{"m":240,"kmh":14},{"m":253,"kmh":13.7},{"m":261,"kmh":9.4},{"m":265,"kmh":0},{"m":274,"kmh":7.7},{"m":282,"kmh":11},{"m":290,"kmh":17.7},{"m":298,"kmh":11},{"m":306,"kmh":14.4},{"m":315,"kmh":11},{"m":323,"kmh":0},{"m":331,"kmh":14.4},{"m":340,"kmh":0},{"m":348,"kmh":17.7},{"m":356,"kmh":21},{"m":364,"kmh":17.7},{"m":373,"kmh":7.7},{"m":381,"kmh":14.4},{"m":393,"kmh":17.7},{"m":406,"kmh":19.4},{"m":418,"kmh":17.7},{"m":430,"kmh":19.4},{"m":443,"kmh":19},{"m":455,"kmh":21},{"m":468,"kmh":22},{"m":476,"kmh":24.4},{"m":488,"kmh":23.7},{"m":501,"kmh":27},{"m":517,"kmh":29.8},{"m":530,"kmh":27.8},{"m":542,"kmh":17},{"m":551,"kmh":21},{"m":563,"kmh":26},{"m":575,"kmh":27.8},{"m":588,"kmh":25},{"m":600,"kmh":21},{"m":608,"kmh":17.7},{"m":621,"kmh":12.7},{"m":631,"kmh":17.7},{"m":641,"kmh":12.7},{"m":650,"kmh":21},{"m":662,"kmh":23.7},{"m":674,"kmh":3.3},{"m":683,"kmh":23.7},{"m":695,"kmh":24.4},{"m":707,"kmh":23.7},{"m":719,"kmh":31},{"m":728,"kmh":29.4},{"m":740,"kmh":15},{"m":753,"kmh":0},{"m":760,"kmh":15},{"m":775,"kmh":8},{"m":790,"kmh":20},{"m":808,"kmh":0},{"m":820,"kmh":22},{"m":835,"kmh":10},{"m":848,"kmh":0},{"m":860,"kmh":20},{"m":872,"kmh":25},{"m":881,"kmh":0},{"m":895,"kmh":18},{"m":910,"kmh":25},{"m":922,"kmh":14},{"m":935,"kmh":11},{"m":943,"kmh":17.7},{"m":955,"kmh":21},{"m":968,"kmh":24.4},{"m":980,"kmh":22.7},{"m":997,"kmh":17.7},{"m":1009,"kmh":24.4},{"m":1021,"kmh":22},{"m":1034,"kmh":27.8},{"m":1046,"kmh":31.8},{"m":1059,"kmh":29.4},{"m":1071,"kmh":27.8},{"m":1084,"kmh":31},{"m":1096,"kmh":32.4},{"m":1108,"kmh":27.8},{"m":1121,"kmh":32},{"m":1133,"kmh":29.4},{"m":1145,"kmh":27},{"m":1162,"kmh":24.4},{"m":1174,"kmh":17.7},{"m":1186,"kmh":7.7},{"m":1195,"kmh":0},{"m":1207,"kmh":7.7},{"m":1219,"kmh":17.7},{"m":1226,"kmh":21},{"m":1238,"kmh":34.4},{"m":1251,"kmh":35.5},{"m":1263,"kmh":36.5},{"m":1276,"kmh":36.8},{"m":1288,"kmh":35.5},{"m":1300,"kmh":33},{"m":1313,"kmh":27.8},{"m":1325,"kmh":29.4},{"m":1334,"kmh":27},{"m":1346,"kmh":28.4},{"m":1359,"kmh":27},{"m":1371,"kmh":32.8},{"m":1383,"kmh":21},{"m":1392,"kmh":19.4},{"m":1404,"kmh":27.8},{"m":1417,"kmh":30.4},{"m":1429,"kmh":31.8},{"m":1442,"kmh":33.8},{"m":1454,"kmh":34.8},{"m":1466,"kmh":33.8},{"m":1479,"kmh":32.4},{"m":1491,"kmh":30.4},{"m":1500,"kmh":22.7},{"m":1512,"kmh":17.7},{"m":1520,"kmh":14.4},{"m":1533,"kmh":9.4},{"m":1545,"kmh":11},{"m":1558,"kmh":9.4},{"m":1570,"kmh":14.4},{"m":1578,"kmh":7.7},{"m":1587,"kmh":0},{"m":1595,"kmh":14.4},{"m":1603,"kmh":0},{"m":1612,"kmh":14.4},{"m":1620,"kmh":21},{"m":1632,"kmh":24.4},{"m":1645,"kmh":27.8},{"m":1653,"kmh":30.4},{"m":1661,"kmh":27.8},{"m":1670,"kmh":24.7},{"m":1682,"kmh":23.7},{"m":1695,"kmh":22.7},{"m":1707,"kmh":24.4},{"m":1720,"kmh":30},{"m":1732,"kmh":31.8},{"m":1745,"kmh":31},{"m":1757,"kmh":29.8},{"m":1769,"kmh":31},{"m":1782,"kmh":30.4},{"m":1794,"kmh":27.8},{"m":1807,"kmh":17.7},{"m":1817,"kmh":9.4},{"m":1823,"kmh":0},{"m":1831,"kmh":14.4},{"m":1838,"kmh":0},{"m":1848,"kmh":21},{"m":1861,"kmh":26},{"m":1873,"kmh":27.8},{"m":1885,"kmh":29.4},{"m":1898,"kmh":28.8},{"m":1910,"kmh":30},{"m":1923,"kmh":32.4},{"m":1935,"kmh":32},{"m":1944,"kmh":27.8},{"m":1952,"kmh":21},{"m":1960,"kmh":18.7},{"m":1973,"kmh":24.4},{"m":1985,"kmh":31},{"m":1998,"kmh":29.8},{"m":2010,"kmh":27.8},{"m":2018,"kmh":17.7},{"m":2027,"kmh":7.7},{"m":2035,"kmh":0},{"m":2043,"kmh":14.4},{"m":2052,"kmh":19.4},{"m":2064,"kmh":21},{"m":2077,"kmh":14.4},{"m":2089,"kmh":21},{"m":2106,"kmh":22.7},{"m":2118,"kmh":21},{"m":2131,"kmh":24.4},{"m":2143,"kmh":27.8},{"m":2156,"kmh":27},{"m":2168,"kmh":29},{"m":2181,"kmh":29.4},{"m":2193,"kmh":28.4},{"m":2205,"kmh":29.8},{"m":2218,"kmh":27.8},{"m":2230,"kmh":21},{"m":2243,"kmh":22.4},{"m":2255,"kmh":19.7},{"m":2268,"kmh":19},{"m":2280,"kmh":17.7},{"m":2293,"kmh":22.4},{"m":2305,"kmh":14.4},{"m":2314,"kmh":11},{"m":2322,"kmh":8.4},{"m":2334,"kmh":17.7},{"m":2346,"kmh":20},{"m":2359,"kmh":22.4},{"m":2371,"kmh":19.7},{"m":2384,"kmh":17.7},{"m":2396,"kmh":7.7},{"m":2409,"kmh":17.7},{"m":2421,"kmh":19},{"m":2434,"kmh":17.7},{"m":2446,"kmh":24.4},{"m":2458,"kmh":25.7},{"m":2471,"kmh":25},{"m":2484,"kmh":26},{"m":2496,"kmh":25.4},{"m":2509,"kmh":25.4},{"m":2521,"kmh":24.4},{"m":2530,"kmh":27.8},{"m":2542,"kmh":21},{"m":2554,"kmh":11},{"m":2563,"kmh":0},{"m":2571,"kmh":14.4},{"m":2583,"kmh":26},{"m":2596,"kmh":31},{"m":2608,"kmh":31.8},{"m":2621,"kmh":31},{"m":2633,"kmh":31.8},{"m":2646,"kmh":35.8},{"m":2658,"kmh":34.4},{"m":2666,"kmh":33.8},{"m":2679,"kmh":32.4},{"m":2691,"kmh":31.8},{"m":2704,"kmh":30.4},{"m":2716,"kmh":27.8},{"m":2729,"kmh":27.8},{"m":2741,"kmh":25.7},{"m":2754,"kmh":22.4},{"m":2766,"kmh":19},{"m":2774,"kmh":14.4},{"m":2782,"kmh":0},{"m":2790,"kmh":14.4},{"m":2800,"kmh":35},{"m":2808,"kmh":14.4},{"m":2816,"kmh":0},{"m":2828,"kmh":21},{"m":2836,"kmh":17.7},{"m":2845,"kmh":2},{"m":2853,"kmh":0},{"m":2862,"kmh":14.4},{"m":2874,"kmh":17.7},{"m":2886,"kmh":26},{"m":2899,"kmh":29.8},{"m":2907,"kmh":31},{"m":2920,"kmh":25.7},{"m":2932,"kmh":22.7},{"m":2940,"kmh":19.7},{"m":2953,"kmh":25},{"m":2965,"kmh":21.7},{"m":2978,"kmh":18.4},{"m":2990,"kmh":12.7},{"m":2998,"kmh":14.4},{"m":3011,"kmh":17.7},{"m":3023,"kmh":12.7},{"m":3036,"kmh":25.7},{"m":3048,"kmh":17.7},{"m":3057,"kmh":11},{"m":3065,"kmh":0},{"m":3073,"kmh":14.4},{"m":3085,"kmh":17.7},{"m":3098,"kmh":27.8},{"m":3110,"kmh":32.4},{"m":3123,"kmh":31},{"m":3135,"kmh":32.4},{"m":3148,"kmh":29.8},{"m":3160,"kmh":33.8},{"m":3172,"kmh":31},{"m":3185,"kmh":33.4},{"m":3193,"kmh":22},{"m":3202,"kmh":14.4},{"m":3210,"kmh":7.7},{"m":3218,"kmh":17.7},{"m":3226,"kmh":7.7},{"m":3235,"kmh":0},{"m":3243,"kmh":17.7},{"m":3251,"kmh":27.8},{"m":3264,"kmh":32.4},{"m":3276,"kmh":37},{"m":3285,"kmh":40},{"m":3297,"kmh":36.8},{"m":3309,"kmh":39},{"m":3322,"kmh":40},{"m":3334,"kmh":41},{"m":3347,"kmh":37},{"m":3359,"kmh":33.8},{"m":3372,"kmh":31.8},{"m":3384,"kmh":37},{"m":3397,"kmh":39},{"m":3408,"kmh":47},{"m":3417,"kmh":42},{"m":3430,"kmh":40},{"m":3442,"kmh":35},{"m":3455,"kmh":39},{"m":3467,"kmh":36.8},{"m":3480,"kmh":32.4},{"m":3492,"kmh":36.8},{"m":3505,"kmh":38.5},{"m":3517,"kmh":37},{"m":3530,"kmh":34.4},{"m":3542,"kmh":35.5},{"m":3554,"kmh":32.4},{"m":3567,"kmh":37.8},{"m":3579,"kmh":34.4},{"m":3592,"kmh":31},{"m":3604,"kmh":24.4},{"m":3617,"kmh":14.4},{"m":3625,"kmh":11},{"m":3637,"kmh":0},{"m":3650,"kmh":7.7},{"m":3662,"kmh":17.7},{"m":3675,"kmh":21},{"m":3691,"kmh":26},{"m":3700,"kmh":29.4},{"m":3710,"kmh":35},{"m":3726,"kmh":45},{"m":3737,"kmh":44.5},{"m":3749,"kmh":42},{"m":3761,"kmh":40.5},{"m":3773,"kmh":39.5},{"m":3784,"kmh":41},{"m":3796,"kmh":48},{"m":3808,"kmh":41},{"m":3820,"kmh":36.5},{"m":3831,"kmh":40},{"m":3843,"kmh":37.8},{"m":3855,"kmh":41},{"m":3866,"kmh":43},{"m":3878,"kmh":37.8},{"m":3890,"kmh":31},{"m":3902,"kmh":27.4},{"m":3913,"kmh":24.4},{"m":3921,"kmh":14.4},{"m":3929,"kmh":0},{"m":3940,"kmh":7.7},{"m":3952,"kmh":17.7},{"m":3964,"kmh":22.7},{"m":3976,"kmh":24.4},{"m":3988,"kmh":17.7},{"m":3999,"kmh":7.7},{"m":4007,"kmh":11},{"m":4015,"kmh":0},{"m":4025,"kmh":14.4},{"m":4034,"kmh":21},{"m":4042,"kmh":25.7},{"m":4050,"kmh":15},{"m":4062,"kmh":27.8},{"m":4074,"kmh":21},{"m":4085,"kmh":27.8},{"m":4095,"kmh":31},{"m":4105,"kmh":36.8},{"m":4112,"kmh":36.5},{"m":4124,"kmh":31},{"m":4136,"kmh":27.8},{"m":4148,"kmh":33},{"m":4155,"kmh":41.5},{"m":4163,"kmh":36.5},{"m":4171,"kmh":32.4},{"m":4183,"kmh":33.4},{"m":4194,"kmh":31},{"m":4206,"kmh":29.4},{"m":4218,"kmh":22.4},{"m":4228,"kmh":17.7},{"m":4237,"kmh":14.4},{"m":4249,"kmh":0},{"m":4261,"kmh":11},{"m":4272,"kmh":17.7},{"m":4284,"kmh":21.7},{"m":4296,"kmh":24.4},{"m":4308,"kmh":27},{"m":4320,"kmh":32.4},{"m":4331,"kmh":33},{"m":4343,"kmh":31},{"m":4355,"kmh":30.4},{"m":4366,"kmh":26},{"m":4378,"kmh":25},{"m":4390,"kmh":25.7},{"m":4402,"kmh":23.7},{"m":4413,"kmh":14.4},{"m":4421,"kmh":7.7},{"m":4433,"kmh":12.7},{"m":4445,"kmh":17.7},{"m":4450,"kmh":14.4},{"m":4456,"kmh":10},{"m":4464,"kmh":0}]
},
"encoding":{
"x":{"field":"m","type":"quantitative","scale":{"domain":[0,4800],"nice":false,"zero":false},
 "axis":{"values":[0,200,400,600,800,1000,1200,1400,1600,1800,2000,2200,2400,2600,2800,3000,3200,3400,3600,3800,4000,4200,4400,4600,4800],"format":"d","title":"[m]","titleX":2024,"titleY":77,"titleAlign":"center","titleBaseline":"middle","titleFontWeight":"normal","titleFontSize":25,"titleColor":"#404040","titleFont":"Lato","labelFont":"Lato","labelFontSize":24,"labelColor":"#595959","labelPadding":22,"ticks":false,"domainColor":"#000000","domainWidth":2.5,"gridColor":"#d9d9d9","gridWidth":2,"labelFlush":false,"labelOverlap":false}},
"y":{"field":"kmh","type":"quantitative","scale":{"domain":[0,50],"nice":false},
 "axis":{"values":[0,5,10,15,20,25,30,35,40,45,50],"title":"[km/h]","titleX":-85,"titleY":42,"titleAngle":270,"titleAlign":"center","titleBaseline":"middle","titleFontWeight":"normal","titleFontSize":27,"titleColor":"#262626","titleFont":"Lato","labelFont":"Lato","labelFontSize":24,"labelColor":"#595959","labelPadding":24,"ticks":false,"domainColor":"#000000","domainWidth":2.5,"gridColor":"#d9d9d9","gridWidth":2,"labelFlush":false}}
},
"layer":[
{"data":{"name":"r0659"},"mark":{"type":"line","interpolate":"monotone","strokeWidth":4},"encoding":{"color":{"datum":"06:59","type":"nominal","scale":{"domain":["06:59","07:53","09:39","11:39","17:26"],"range":["#4472C4","#ED7D31","#548235","#FFC000","#5B9BD5"]},"legend":{"orient":"none","legendX":614,"legendY":678,"direction":"horizontal","title":null,"symbolType":"stroke","symbolSize":3844,"symbolStrokeWidth":4,"labelFont":"Lato","labelFontSize":24,"labelColor":"#595959","labelOffset":6,"labelLimit":300,"columnPadding":20}}}},
{"data":{"name":"r0753"},"mark":{"type":"line","interpolate":"monotone","strokeWidth":4},"encoding":{"color":{"datum":"07:53","type":"nominal"}}},
{"data":{"name":"r0939"},"mark":{"type":"line","interpolate":"monotone","strokeWidth":4},"encoding":{"color":{"datum":"09:39","type":"nominal"}}},
{"data":{"name":"r1139"},"mark":{"type":"line","interpolate":"monotone","strokeWidth":4},"encoding":{"color":{"datum":"11:39","type":"nominal"}}},
{"data":{"name":"r1726"},"mark":{"type":"line","interpolate":"monotone","strokeWidth":4},"encoding":{"color":{"datum":"17:26","type":"nominal"}}}
]
}
